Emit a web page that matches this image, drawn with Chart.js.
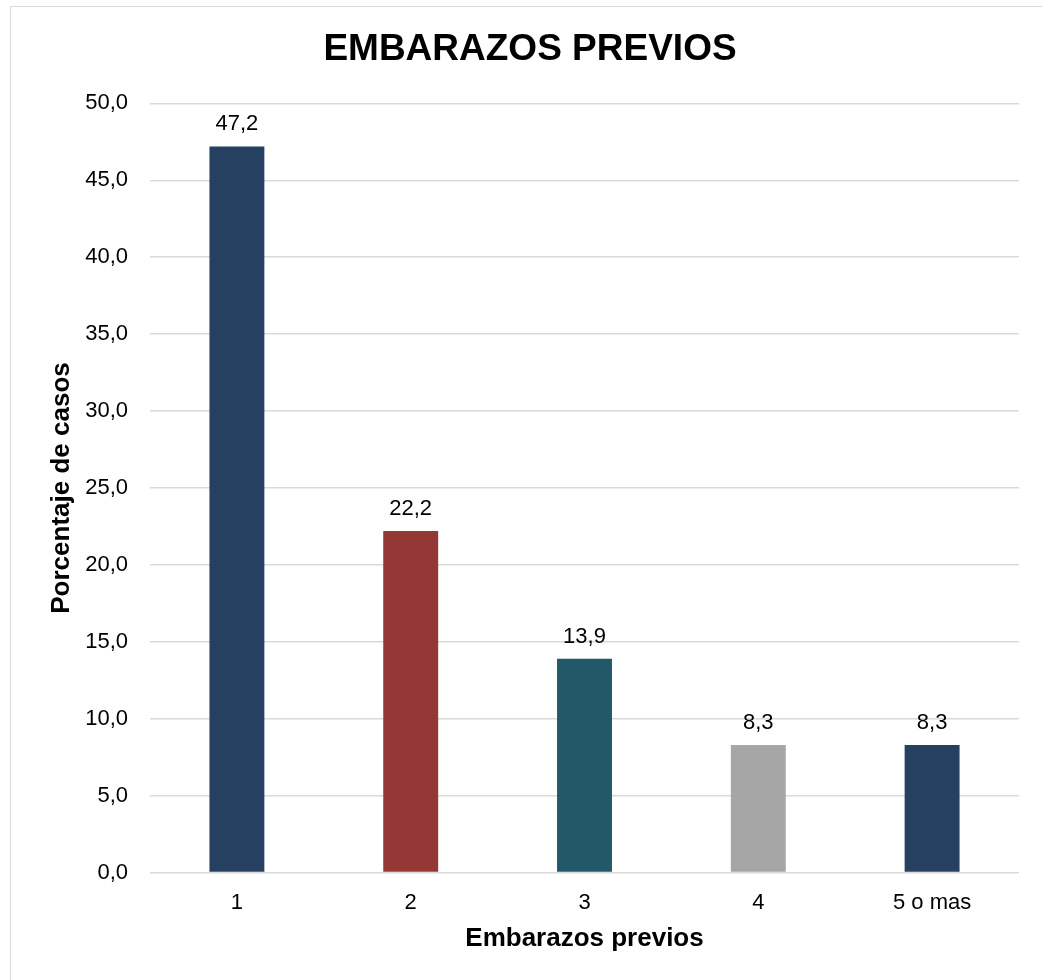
<!DOCTYPE html>
<html><head><meta charset="utf-8">
<script src="https://cdn.jsdelivr.net/npm/chart.js@4/dist/chart.umd.min.js"></script>
<style>html,body{margin:0;padding:0;background:#fff;}#wrap{width:1042px;height:980px;position:relative;}</style>
</head><body><div id="wrap"><canvas id="c" width="1042" height="980"></canvas></div>
<script>
const categories = ["1", "2", "3", "4", "5 o mas"];
const values = [47.2, 22.2, 13.9, 8.3, 8.3];
const barColors = ["#264061", "#953735", "#215968", "#A6A6A6", "#264061"];
const yTicks = [0, 5, 10, 15, 20, 25, 30, 35, 40, 45, 50];
const chartTitle = "EMBARAZOS PREVIOS";
const xTitle = "Embarazos previos";
const yTitle = "Porcentaje de casos";

const FONT = "'Liberation Sans', Arial, sans-serif";
const fmt = v => v.toFixed(1).replace('.', ',');

const frame = {
  id: 'frame',
  beforeDraw(chart) {
    const ctx = chart.ctx;
    ctx.save();
    ctx.fillStyle = '#fff';
    ctx.fillRect(0, 0, chart.width, chart.height);
    ctx.strokeStyle = '#d9d9d9';
    ctx.lineWidth = 1;
    ctx.strokeRect(10.5, 6.5, 1045, 990);
    ctx.restore();
  }
};
const labels = {
  id: 'labels',
  afterDatasetsDraw(chart) {
    const ctx = chart.ctx;
    const meta = chart.getDatasetMeta(0);
    ctx.save();
    ctx.font = "22px " + FONT;
    ctx.fillStyle = '#000';
    ctx.textAlign = 'center';
    ctx.textBaseline = 'alphabetic';
    meta.data.forEach((bar, i) => {
      ctx.fillText(fmt(values[i]), bar.x, bar.y - 16);
    });
    // x axis title
    const a = chart.chartArea;
    ctx.font = "bold 26px " + FONT;
    ctx.textBaseline = 'middle';
    ctx.fillText(xTitle, (a.left + a.right) / 2, a.bottom + 66);
    ctx.restore();
  }
};

new Chart(document.getElementById('c'), {
  type: 'bar',
  data: {
    labels: categories,
    datasets: [{ data: values, backgroundColor: barColors, barPercentage: 0.316, categoryPercentage: 1 }]
  },
  options: {
    responsive: false,
    animation: false,
    layout: { padding: { left: 41, right: 23, top: 0, bottom: 47 } },
    plugins: {
      legend: { display: false },
      tooltip: { enabled: false },
      title: {
        display: true, text: chartTitle, color: '#000',
        font: { family: FONT, size: 37, weight: 'bold', lineHeight: 1.2 },
        padding: { top: 28, bottom: 31 }
      }
    },
    scales: {
      x: {
        grid: { display: false, drawTicks: false },
        border: { display: false },
        ticks: { color: '#000', font: { family: FONT, size: 22 }, padding: 17 },
        title: { display: false, text: xTitle }
      },
      y: {
        min: 0, max: 50,
        afterBuildTicks(scale) { scale.ticks = yTicks.map(v => ({ value: v })); },
        afterFit(scale) { scale.width = 109; },
        grid: { color: '#d9d9d9', lineWidth: 1.5, drawTicks: false },
        border: { display: false },
        ticks: { color: '#000', font: { family: FONT, size: 22 }, padding: 22, callback: v => fmt(v) },
        title: { display: true, text: yTitle, color: '#000', font: { family: FONT, size: 26, weight: 'bold', lineHeight: 1.2 }, padding: { top: 5, bottom: 0 } }
      }
    }
  },
  plugins: [frame, labels]
});
</script></body></html>
